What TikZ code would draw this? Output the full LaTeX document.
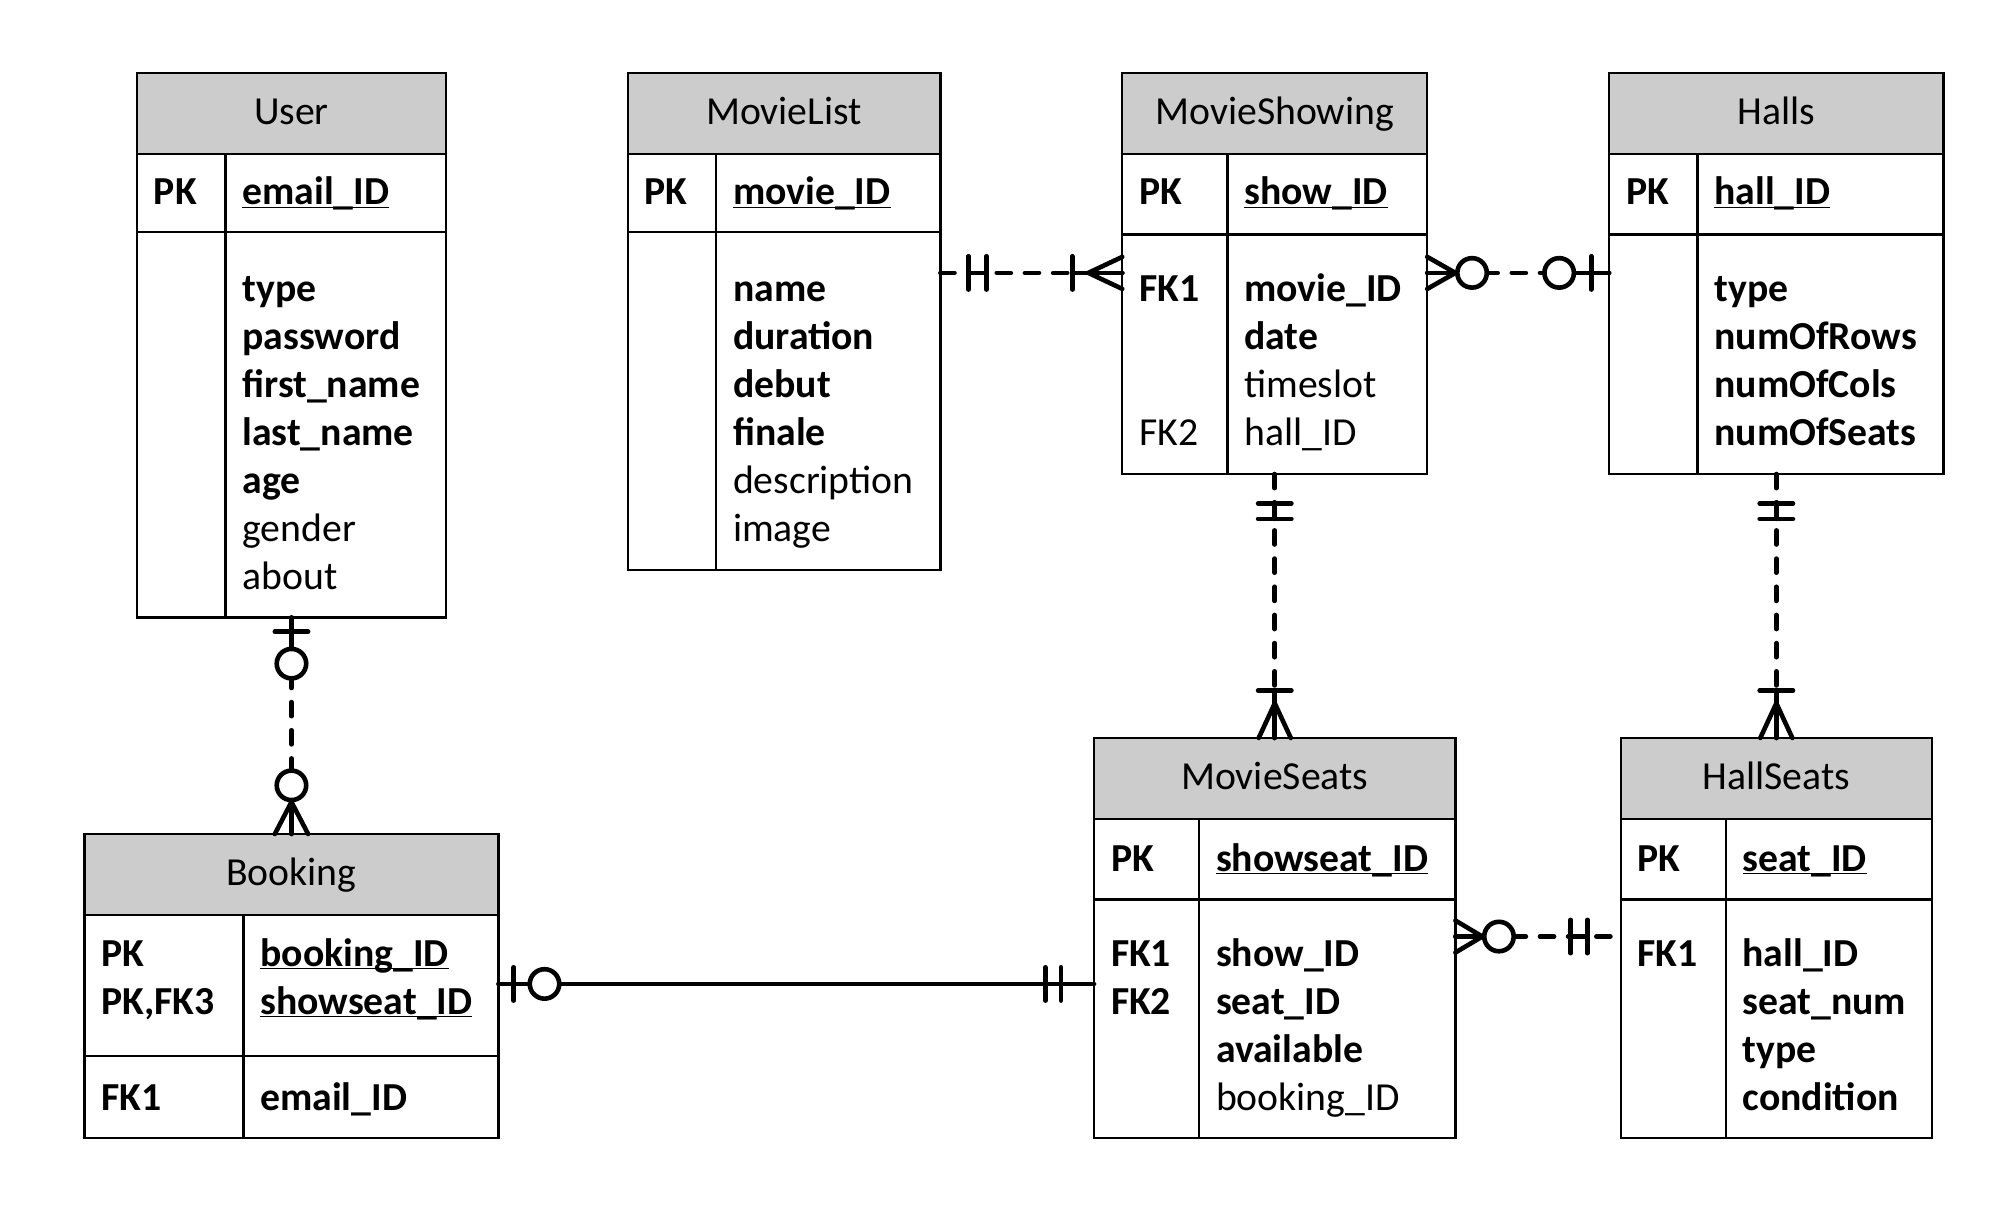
\documentclass[tikz,border=0pt]{standalone}
\usepackage{fontspec}
\setmainfont{Carlito}
\usepackage{tikz}
\usetikzlibrary{calc}
\tikzstyle{head}=[rectangle,draw=black,fill=gray!40,line width=1.8pt,anchor=north west,outer sep=0pt,
minimum height=63pt,inner sep=0pt,font=\fontsize{31}{37.5}\selectfont,text height=23.25pt,text depth=5.25pt]
\tikzstyle{cell}=[rectangle,draw=black,line width=1.8pt,anchor=north west,outer sep=0pt,inner sep=0pt]
\tikzstyle{attr}=[anchor=base west,inner sep=0pt,font=\fontsize{31}{37.5}\selectfont]
\tikzstyle{attrb}=[anchor=base west,inner sep=0pt,font=\fontsize{31}{37.5}\selectfont\bfseries]
\tikzstyle{rel}=[line width=3.6pt,dash pattern=on 11pt off 11pt,line cap=round]
\tikzstyle{sym}=[line width=3.6pt,line cap=round]
\tikzstyle{zero}=[circle,draw=black,fill=white,line width=3.6pt,minimum size=23pt,inner sep=0pt]

\begin{document}
\begin{tikzpicture}[x=1pt,y=-1pt]
\useasboundingbox (0,0) rectangle (1565,953);
% User
\node[head,minimum width=241pt] (user) at (107,57) {User};
\node[cell,minimum width=241pt,minimum height=61pt] (userk) at (user.south west) {};
\node[cell,minimum width=241pt,minimum height=301pt] (userb) at (userk.south west) {};
\draw[line width=1.8pt] ([xshift=69pt]userk.north west) -- ([xshift=69pt]userb.south west);
\node[attrb] (upk) at (120,160) {PK};
\node[attrb] (uid) at (189,160) {\underline{\smash{email\_ID}}};
\node[attrb] (u1) at (189,235) {type};
\node[attrb] (u2) at (189,272.5) {password};
\node[attrb] (u3) at (189,310) {first\_name};
\node[attrb] (u4) at (189,347.5) {last\_name};
\node[attrb] (u5) at (189,385) {age};
\node[attr] (u6) at (189,422.5) {gender};
\node[attr] (u7) at (189,460) {about};
% MovieList
\node[head,minimum width=244pt] (mlist) at (490,57) {MovieList};
\node[cell,minimum width=244pt,minimum height=61pt] (mlistk) at (mlist.south west) {};
\node[cell,minimum width=244pt,minimum height=264pt] (mlistb) at (mlistk.south west) {};
\draw[line width=1.8pt] ([xshift=69pt]mlistk.north west) -- ([xshift=69pt]mlistb.south west);
\node[attrb] (mlpk) at (503,160) {PK};
\node[attrb] (mlid) at (572,160) {\underline{\smash{movie\_ID}}};
\node[attrb] (ml1) at (572,235) {name};
\node[attrb] (ml2) at (572,272.5) {duration};
\node[attrb] (ml3) at (572,310) {debut};
\node[attrb] (ml4) at (572,347.5) {finale};
\node[attr] (ml5) at (572,385) {description};
\node[attr] (ml6) at (572,422.5) {image};
% MovieShowing
\node[head,minimum width=238pt] (mshow) at (876,57) {MovieShowing};
\node[cell,minimum width=238pt,minimum height=63pt] (mshowk) at (mshow.south west) {};
\node[cell,minimum width=238pt,minimum height=187pt] (mshowb) at (mshowk.south west) {};
\draw[line width=1.8pt] ([xshift=82pt]mshowk.north west) -- ([xshift=82pt]mshowb.south west);
\node[attrb] (mspk) at (889,160) {PK};
\node[attrb] (msid) at (971,160) {\underline{\smash{show\_ID}}};
\node[attrb] (msfk1) at (889,235) {FK1};
\node[attrb] (ms1) at (971,235) {movie\_ID};
\node[attrb] (ms2) at (971,272.5) {date};
\node[attr] (ms3) at (971,310) {timeslot};
\node[attr] (msfk2) at (889,347.5) {FK2};
\node[attr] (ms4) at (971,347.5) {hall\_ID};
% Halls
\node[head,minimum width=261pt] (halls) at (1256,57) {Halls};
\node[cell,minimum width=261pt,minimum height=63pt] (hallsk) at (halls.south west) {};
\node[cell,minimum width=261pt,minimum height=187pt] (hallsb) at (hallsk.south west) {};
\draw[line width=1.8pt] ([xshift=69pt]hallsk.north west) -- ([xshift=69pt]hallsb.south west);
\node[attrb] (hpk) at (1269,160) {PK};
\node[attrb] (hid) at (1338,160) {\underline{\smash{hall\_ID}}};
\node[attrb] (h1) at (1338,235) {type};
\node[attrb] (h2) at (1338,272.5) {numOfRows};
\node[attrb] (h3) at (1338,310) {numOfCols};
\node[attrb] (h4) at (1338,347.5) {numOfSeats};
% Booking
\node[head,minimum width=323pt] (book) at (66,651) {Booking};
\node[cell,minimum width=323pt,minimum height=110pt] (bookk) at (book.south west) {};
\node[cell,minimum width=323pt,minimum height=64pt] (bookb) at (bookk.south west) {};
\draw[line width=1.8pt] ([xshift=124pt]bookk.north west) -- ([xshift=124pt]bookb.south west);
\node[attrb] (bpk) at (79,754) {PK};
\node[attrb] (bpk2) at (79,791.5) {PK,FK3};
\node[attrb] (bid) at (203,754) {\underline{\smash{booking\_ID}}};
\node[attrb] (bid2) at (203,791.5) {\underline{\smash{showseat\_ID}}};
\node[attrb] (bfk1) at (79,866.5) {FK1};
\node[attrb] (b1) at (203,866.5) {email\_ID};
% MovieSeats
\node[head,minimum width=282pt] (mseat) at (854,576) {MovieSeats};
\node[cell,minimum width=282pt,minimum height=63pt] (mseatk) at (mseat.south west) {};
\node[cell,minimum width=282pt,minimum height=186pt] (mseatb) at (mseatk.south west) {};
\draw[line width=1.8pt] ([xshift=82pt]mseatk.north west) -- ([xshift=82pt]mseatb.south west);
\node[attrb] (mtpk) at (867,680) {PK};
\node[attrb] (mtid) at (949,680) {\underline{\smash{showseat\_ID}}};
\node[attrb] (mtfk1) at (867,754) {FK1};
\node[attrb] (mtfk2) at (867,791.5) {FK2};
\node[attrb] (mt1) at (949,754) {show\_ID};
\node[attrb] (mt2) at (949,791.5) {seat\_ID};
\node[attrb] (mt3) at (949,829) {available};
\node[attr] (mt4) at (949,866.5) {booking\_ID};
% HallSeats
\node[head,minimum width=243pt] (hseat) at (1265,576) {HallSeats};
\node[cell,minimum width=243pt,minimum height=63pt] (hseatk) at (hseat.south west) {};
\node[cell,minimum width=243pt,minimum height=186pt] (hseatb) at (hseatk.south west) {};
\draw[line width=1.8pt] ([xshift=82pt]hseatk.north west) -- ([xshift=82pt]hseatb.south west);
\node[attrb] (hspk) at (1278,680) {PK};
\node[attrb] (hsid) at (1360,680) {\underline{\smash{seat\_ID}}};
\node[attrb] (hsfk1) at (1278,754) {FK1};
\node[attrb] (hs1) at (1360,754) {hall\_ID};
\node[attrb] (hs2) at (1360,791.5) {seat\_num};
\node[attrb] (hs3) at (1360,829) {type};
\node[attrb] (hs4) at (1360,866.5) {condition};

% connector end points
\coordinate (a1) at ([yshift=-32pt]mlistb.north east);
\coordinate (a2) at (a1 -| mshowb.west);
\coordinate (b1) at ([yshift=-30pt]mshowb.north east);
\coordinate (b2) at (b1 -| hallsb.west);
\coordinate (c1) at (mshowb.south);
\coordinate (c2) at (c1 |- mseat.north);
\coordinate (d1) at (hallsb.south);
\coordinate (d2) at (d1 |- hseat.north);
\coordinate (e1) at (userb.south);
\coordinate (e2) at (e1 |- book.north);
\coordinate (f1) at ([yshift=-54pt]bookk.north east);
\coordinate (f2) at (f1 -| mseatb.west);
\coordinate (g1) at ([yshift=-29pt]mseatb.north east);
\coordinate (g2) at (g1 -| hseatb.west);

\draw[rel] (a1) -- (a2);
\draw[rel] (b1) -- (b2);
\draw[rel] (c1) -- (c2);
\draw[rel] (d1) -- (d2);
\draw[rel] (e1) -- (e2);
\draw[sym] (f1) -- (f2);
\draw[rel] (g1) -- (g2);

% MovieList -- MovieShowing
\draw[sym] ($(a1)+(22,-13)$) -- ($(a1)+(22,13)$);
\draw[sym] ($(a1)+(36,-13)$) -- ($(a1)+(36,13)$);
\draw[sym] ($(a1)+(22,0)$) -- ($(a1)+(36,0)$);
\draw[sym] ($(a2)+(-39,-13)$) -- ($(a2)+(-39,13)$);
\draw[sym] ($(a2)+(-39,0)$) -- (a2);
\draw[sym] ($(a2)+(0,-12.5)$) -- ($(a2)+(-26.5,0)$) -- ($(a2)+(0,12.5)$);
% MovieShowing -- Halls
\draw[sym] (b1) -- ($(b1)+(22,0)$);
\draw[sym] ($(b1)+(0,-12.5)$) -- ($(b1)+(22,0)$) -- ($(b1)+(0,12.5)$);
\node[zero] (z1) at ($(b1)+(35,0)$) {};
\draw[sym] ($(b2)+(-27,0)$) -- (b2);
\draw[sym] ($(b2)+(-14,-13)$) -- ($(b2)+(-14,13)$);
\node[zero] (z2) at ($(b2)+(-39,0)$) {};
% MovieShowing -- MovieSeats
\draw[sym] ($(c1)+(-13,23)$) -- ($(c1)+(13,23)$);
\draw[sym] ($(c1)+(-13,35)$) -- ($(c1)+(13,35)$);
\draw[sym] ($(c1)+(0,23)$) -- ($(c1)+(0,35)$);
\draw[sym] ($(c2)+(-13,-37)$) -- ($(c2)+(13,-37)$);
\draw[sym] ($(c2)+(0,-37)$) -- (c2);
\draw[sym] ($(c2)+(-12.5,0)$) -- ($(c2)+(0,-27)$) -- ($(c2)+(12.5,0)$);
% Halls -- HallSeats
\draw[sym] ($(d1)+(-13,23)$) -- ($(d1)+(13,23)$);
\draw[sym] ($(d1)+(-13,35)$) -- ($(d1)+(13,35)$);
\draw[sym] ($(d1)+(0,23)$) -- ($(d1)+(0,35)$);
\draw[sym] ($(d2)+(-13,-37)$) -- ($(d2)+(13,-37)$);
\draw[sym] ($(d2)+(0,-37)$) -- (d2);
\draw[sym] ($(d2)+(-12.5,0)$) -- ($(d2)+(0,-27)$) -- ($(d2)+(12.5,0)$);
% User -- Booking
\draw[sym] (e1) -- ($(e1)+(0,30)$);
\draw[sym] ($(e1)+(-13,11)$) -- ($(e1)+(13,11)$);
\node[zero] (z3) at ($(e1)+(0,36)$) {};
\draw[sym] ($(e2)+(0,-30)$) -- (e2);
\draw[sym] ($(e2)+(-13,0)$) -- ($(e2)+(0,-25)$) -- ($(e2)+(13,0)$);
\node[zero] (z4) at ($(e2)+(0,-38)$) {};
% Booking -- MovieSeats
\draw[sym] ($(f1)+(12,-13)$) -- ($(f1)+(12,13)$);
\node[zero] (z5) at ($(f1)+(36,0)$) {};
\draw[sym] ($(f2)+(-38,-13)$) -- ($(f2)+(-38,13)$);
\draw[sym] ($(f2)+(-26,-13)$) -- ($(f2)+(-26,13)$);
% MovieSeats -- HallSeats
\draw[sym] (g1) -- ($(g1)+(21,0)$);
\draw[sym] ($(g1)+(0,-12.5)$) -- ($(g1)+(21,0)$) -- ($(g1)+(0,12.5)$);
\node[zero] (z6) at ($(g1)+(34,0)$) {};
\draw[sym] ($(g2)+(-39,-13)$) -- ($(g2)+(-39,13)$);
\draw[sym] ($(g2)+(-26,-13)$) -- ($(g2)+(-26,13)$);
\draw[sym] ($(g2)+(-39,0)$) -- ($(g2)+(-26,0)$);
\end{tikzpicture}
\end{document}
